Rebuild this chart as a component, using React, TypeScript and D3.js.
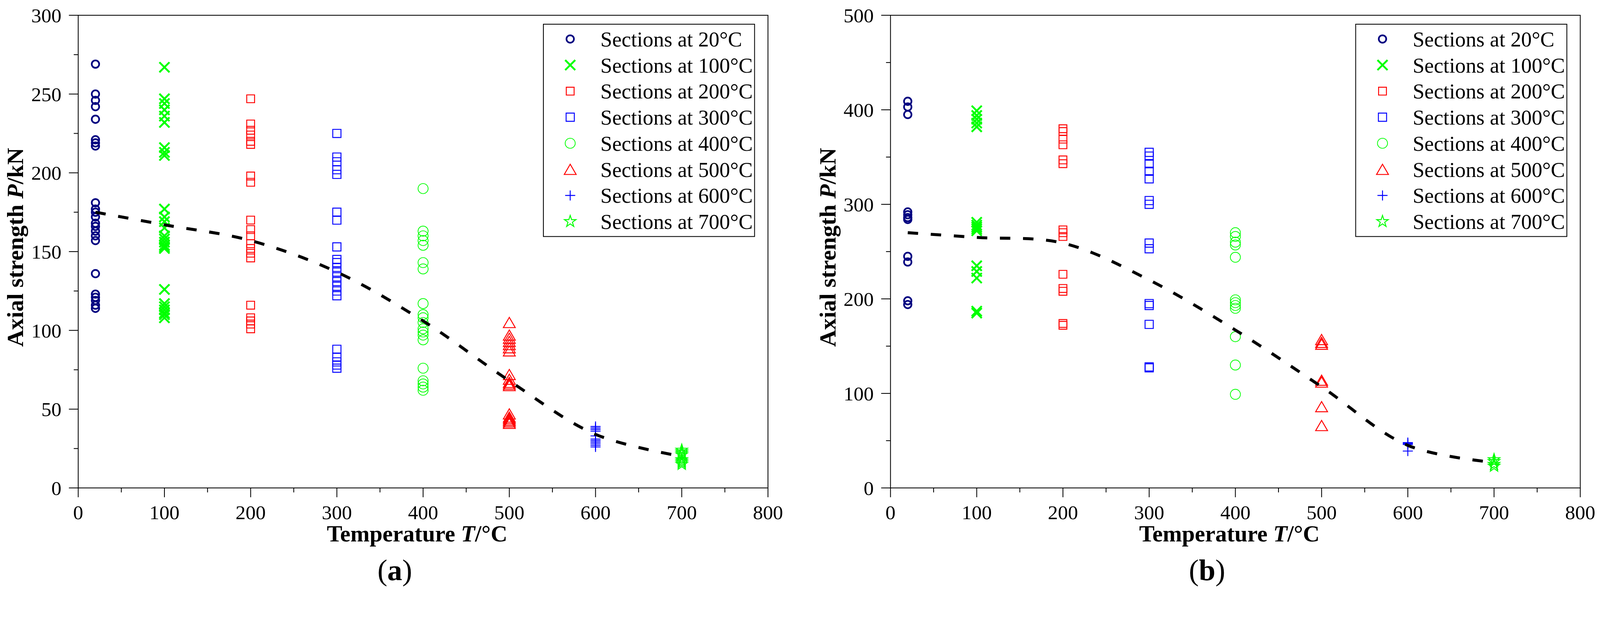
import React from "react";
import * as d3 from "d3";

// temperatures of the section groups (x positions of the columns)
const temperatures = [20, 100, 200, 300, 400, 500, 600, 700];
const legendLabels = [
  "Sections at 20°C",
  "Sections at 100°C",
  "Sections at 200°C",
  "Sections at 300°C",
  "Sections at 400°C",
  "Sections at 500°C",
  "Sections at 600°C",
  "Sections at 700°C",
];

// (a) axial strength P/kN
const a20 = [269, 250, 246, 242, 234, 221, 219, 217, 181, 177, 175, 172, 168, 166, 163, 160, 157, 136, 123, 121, 119, 116, 114];
const a100 = [267, 247, 244, 240, 236, 232, 216, 213, 211, 177, 172, 169, 165, 160, 158, 156, 154, 153, 152, 126, 117, 115, 113, 111, 110, 108];
const a200 = [247, 231, 227, 224, 220, 218, 198, 194, 170, 164, 160, 155, 152, 149, 146, 116, 108, 106, 104, 101];
const a300 = [225, 210, 207, 202, 199, 175, 170, 153, 145, 143, 140, 137, 134, 131, 128, 125, 122, 88, 83, 80, 78, 76];
const a400 = [190, 163, 160, 157, 154, 143, 139, 117, 110, 108, 105, 101, 99, 97, 94, 76, 68, 66, 64, 62];
const a500 = [105, 97, 95, 93, 91, 89, 87, 72, 69, 67, 66, 65, 47, 45, 44, 43, 42, 41];
const a600 = [39, 38, 37, 36, 33, 31, 30, 29, 28, 27, 26];
const a700 = [24, 23, 22, 21, 18, 17, 16, 15];
const aMean = [175, 167, 157, 137, 106, 68, 34, 20];
const aYTicks = [0, 50, 100, 150, 200, 250, 300];

// (b) axial strength P/kN
const b20 = [409, 403, 395, 292, 289, 286, 284, 245, 239, 198, 194];
const b100 = [399, 394, 390, 386, 382, 281, 278, 276, 274, 272, 235, 229, 222, 187, 185];
const b200 = [380, 377, 369, 363, 347, 343, 273, 270, 266, 226, 211, 208, 174, 172];
const b300 = [355, 351, 343, 335, 327, 304, 300, 259, 253, 195, 193, 173, 128, 127];
const b400 = [270, 266, 260, 257, 244, 199, 196, 193, 190, 160, 130, 99];
const b500 = [157, 154, 152, 114, 112, 86, 66];
const b600 = [48, 47, 46, 39];
const b700 = [30, 28, 25, 23];
const bMean = [270, 265, 259, 220, 167, 107, 45, 27];
const bYTicks = [0, 100, 200, 300, 400, 500];

const xTicks = [0, 100, 200, 300, 400, 500, 600, 700, 800];

const FONT = "'Liberation Serif', 'Times New Roman', serif";
const W = 4296;
const H = 1605;

// custom marker shapes, size = full width in px
const symbolXMark = {
  draw(ctx: any, size: number) {
    const r = size / 2;
    ctx.moveTo(-r, -r);
    ctx.lineTo(r, r);
    ctx.moveTo(-r, r);
    ctx.lineTo(r, -r);
  },
};
const symbolPlusMark = {
  draw(ctx: any, size: number) {
    const r = size / 2;
    ctx.moveTo(-r, 0);
    ctx.lineTo(r, 0);
    ctx.moveTo(0, -r);
    ctx.lineTo(0, r);
  },
};
const symbolTriangleMark = {
  draw(ctx: any, size: number) {
    const w = size / 2;
    const h = size * 0.43;
    ctx.moveTo(0, -h);
    ctx.lineTo(w, h);
    ctx.lineTo(-w, h);
    ctx.closePath();
  },
};

const markerStyles = [
  { type: d3.symbolCircle, size: Math.PI * 10 * 10, color: "#000080", sw: 4.5 },
  { type: symbolXMark, size: 27, color: "#00ff00", sw: 5 },
  { type: d3.symbolSquare, size: 21 * 21, color: "#ff0000", sw: 2.5 },
  { type: d3.symbolSquare, size: 22 * 22, color: "#0000ff", sw: 2.5 },
  { type: d3.symbolCircle, size: Math.PI * 13.5 * 13.5, color: "#00ff00", sw: 2 },
  { type: symbolTriangleMark, size: 32, color: "#ff0000", sw: 2.5 },
  { type: symbolPlusMark, size: 27, color: "#0000ff", sw: 2.5 },
  { type: d3.symbolStar, size: 300, color: "#00ff00", sw: 2.5 },
];

interface ChartProps {
  left: number;
  series: number[][];
  mean: number[];
  yMax: number;
  yTicks: number[];
  letter: string;
}

function Chart(props: ChartProps) {
  const { left, series, mean, yMax, yTicks, letter } = props;
  const right = left + 1852;
  const top = 41;
  const bottom = 1310;

  const x = d3.scaleLinear([0, 800], [left, right]);
  const y = d3.scaleLinear([0, yMax], [bottom, top]);

  const yStep = yTicks[1] - yTicks[0];
  const yMinor = d3.range(yStep / 2, yMax, yStep);
  const xMinor = d3.range(50, 800, 100);

  const meanLine = d3
    .line<number>()
    .x((_, i) => x(temperatures[i]))
    .y((d) => y(d))
    .curve(d3.curveCatmullRom);

  const legLeft = left + 1249;
  const legRight = left + 1816;
  const legTop = 65;
  const legBottom = 635;

  return (
    <g>
      {/* frame */}
      <rect x={left} y={top} width={right - left} height={bottom - top} fill="none" stroke="#000" strokeWidth={2.2} />

      {/* y ticks */}
      {yTicks.map((t) => (
        <g key={"yt" + t}>
          <line x1={left - 25} x2={left} y1={y(t)} y2={y(t)} stroke="#000" strokeWidth={2.2} />
          <text x={left - 45} y={y(t)} dy="0.35em" textAnchor="end" fontFamily={FONT} fontSize={54}>
            {t}
          </text>
        </g>
      ))}
      {yMinor.map((t) => (
        <line key={"ym" + t} x1={left - 12} x2={left} y1={y(t)} y2={y(t)} stroke="#000" strokeWidth={2.2} />
      ))}

      {/* x ticks */}
      {xTicks.map((t) => (
        <g key={"xt" + t}>
          <line x1={x(t)} x2={x(t)} y1={bottom} y2={bottom + 25} stroke="#000" strokeWidth={2.2} />
          <text x={x(t)} y={bottom + 84} textAnchor="middle" fontFamily={FONT} fontSize={54}>
            {t}
          </text>
        </g>
      ))}
      {xMinor.map((t) => (
        <line key={"xm" + t} x1={x(t)} x2={x(t)} y1={bottom} y2={bottom + 12} stroke="#000" strokeWidth={2.2} />
      ))}

      {/* axis titles */}
      <text
        transform={`translate(${left - 148},664) rotate(-90)`}
        textAnchor="middle"
        fontFamily={FONT}
        fontSize={63}
        fontWeight="bold"
      >
        Axial strength <tspan fontStyle="italic">P</tspan>/kN
      </text>
      <text x={left + 910} y={1454} textAnchor="middle" fontFamily={FONT} fontSize={62} fontWeight="bold">
        Temperature <tspan fontStyle="italic">T</tspan>/°C
      </text>
      <text x={left + 850} y={1557} textAnchor="middle" fontFamily={FONT} fontSize={80}>
        (<tspan fontWeight="bold">{letter}</tspan>)
      </text>

      {/* data points */}
      {series.map((vals, si) => {
        const st = markerStyles[si];
        const d = d3.symbol().type(st.type as any).size(st.size)() || "";
        return (
          <g key={"s" + si} fill="none" stroke={st.color} strokeWidth={st.sw}>
            {vals.map((v, i) => (
              <path key={i} d={d} transform={`translate(${x(temperatures[si])},${y(v)})`} />
            ))}
          </g>
        );
      })}

      {/* mean curve */}
      <path d={meanLine(mean) || ""} fill="none" stroke="#000" strokeWidth={8} strokeDasharray="28 34" />

      {/* legend */}
      <rect x={legLeft} y={legTop} width={legRight - legLeft} height={legBottom - legTop} fill="#fff" stroke="#000" strokeWidth={2.2} />
      {legendLabels.map((lab, i) => {
        const st = markerStyles[i];
        const cy = 104.7 + i * 70;
        const d = d3.symbol().type(st.type as any).size(st.size)() || "";
        return (
          <g key={"l" + i}>
            <path d={d} transform={`translate(${left + 1321},${cy})`} fill="none" stroke={st.color} strokeWidth={st.sw} />
            <text x={left + 1402} y={cy + 20} fontFamily={FONT} fontSize={57}>
              {lab}
            </text>
          </g>
        );
      })}
    </g>
  );
}

export default function App() {
  return (
    <svg
      viewBox={`0 0 ${W} ${H}`}
      preserveAspectRatio="xMinYMin meet"
      style={{ position: "absolute", left: 0, top: 0, width: "100vw", height: "100vh", display: "block", background: "#fff" }}
    >
      <rect width={W} height={H} fill="#fff" />
      <Chart
        left={210}
        series={[a20, a100, a200, a300, a400, a500, a600, a700]}
        mean={aMean}
        yMax={300}
        yTicks={aYTicks}
        letter="a"
      />
      <Chart
        left={2391}
        series={[b20, b100, b200, b300, b400, b500, b600, b700]}
        mean={bMean}
        yMax={500}
        yTicks={bYTicks}
        letter="b"
      />
    </svg>
  );
}
